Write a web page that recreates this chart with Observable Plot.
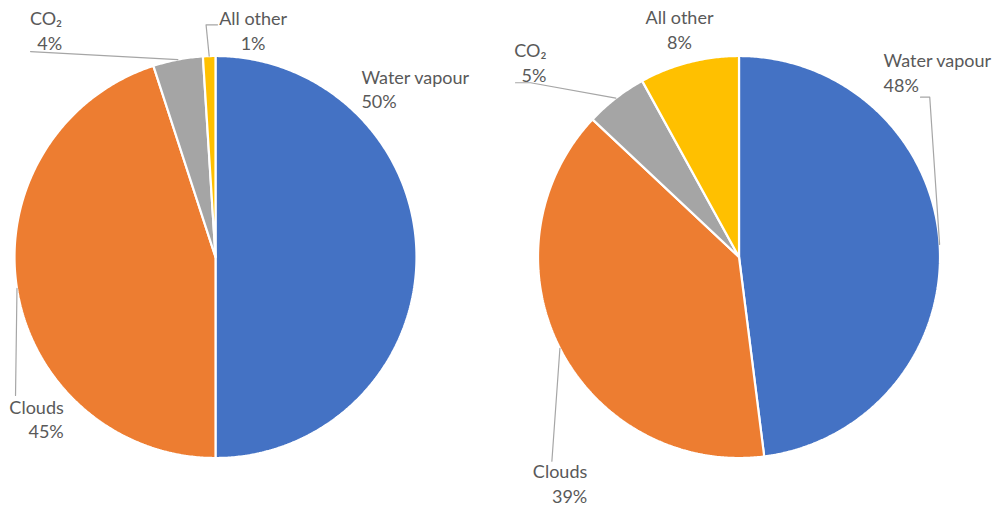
<!DOCTYPE html>
<html>
<head>
<meta charset="utf-8">
<script src="https://cdn.jsdelivr.net/npm/d3@7"></script>
<script src="https://cdn.jsdelivr.net/npm/@observablehq/plot@0.6"></script>
<style>
  body { margin: 0; background: #fff; }
</style>
</head>
<body>
<div id="chart"></div>
<script>
// Shares of the greenhouse effect, two estimates
const categories = ["Water vapour", "Clouds", "CO₂", "All other"];
const leftShares = [50, 45, 4, 1];
const rightShares = [48, 39, 5, 8];
const sliceColors = ["#4472C4", "#ED7D31", "#A5A5A5", "#FFC000"];

// Layout, in units of the pie radius (y points up)
const pies = [
  {name: "left", cx: 0, shares: leftShares},
  {name: "right", cx: 2.6045, shares: rightShares}
];

// Label position (first baseline), alignment and leader elbows per slice
const labelLayout = {
  left: {
    "Water vapour": {x: 0.726, y: 0.862, anchor: "start", leader: null},
    "Clouds": {x: -0.755, y: -0.780, anchor: "end", leader: [[-0.995, -0.689]]},
    "CO₂": {x: -0.763, y: 1.152, anchor: "end", leader: [[-0.920, 1.022]]},
    "All other": {x: 0.187, y: 1.152, anchor: "middle", leader: [[-0.047, 1.155], [0.010, 1.155]]}
  },
  right: {
    "Water vapour": {x: 0.719, y: 0.944, anchor: "start", leader: [[0.949, 0.795], [0.903, 0.795]]},
    "Clouds": {x: -0.755, y: -1.100, anchor: "end", leader: [[-0.931, -1.016]]},
    "CO₂": {x: -0.958, y: 0.994, anchor: "end", leader: [[-1.037, 0.867], [-1.112, 0.867]]},
    "All other": {x: -0.296, y: 1.159, anchor: "middle", leader: null}
  }
};

const FONT_SIZE = 18;
const LINE_GAP = 24.5;
const STEP = Math.PI / 360;

const slicePoints = [];
const leaderPoints = [];
const labels = [];

for (const pie of pies) {
  const rows = categories.map((category, i) => ({category, value: pie.shares[i]}));
  const arcs = d3.pie().sort(null).value(d => d.value)(rows);
  for (const arc of arcs) {
    const id = `${pie.name}-${arc.data.category}`;
    // wedge outline: centre, arc, centre
    slicePoints.push({id, category: arc.data.category, x: pie.cx, y: 0});
    const n = Math.max(2, Math.ceil((arc.endAngle - arc.startAngle) / STEP));
    for (let k = 0; k <= n; ++k) {
      const a = arc.startAngle + (arc.endAngle - arc.startAngle) * k / n;
      slicePoints.push({id, category: arc.data.category, x: pie.cx + Math.sin(a), y: Math.cos(a)});
    }
    slicePoints.push({id, category: arc.data.category, x: pie.cx, y: 0});

    const spec = labelLayout[pie.name][arc.data.category];
    labels.push({
      x: pie.cx + spec.x,
      y: spec.y,
      anchor: spec.anchor,
      text: `${arc.data.category}\n${arc.data.value}%`
    });
    if (spec.leader) {
      const mid = (arc.startAngle + arc.endAngle) / 2;
      leaderPoints.push({id, x: pie.cx + Math.sin(mid), y: Math.cos(mid)});
      for (const [px, py] of spec.leader) leaderPoints.push({id, x: pie.cx + px, y: py});
    }
  }
}

// multi-line text with lineAnchor "top" puts the first baseline 0.71 line-heights down;
// shift it back so y marks the first baseline
const textMark = anchor => Plot.text(labels.filter(d => d.anchor === anchor), {
  x: "x",
  y: "y",
  text: "text",
  textAnchor: anchor,
  lineAnchor: "top",
  dy: -0.71 * LINE_GAP,
  lineHeight: LINE_GAP / FONT_SIZE,
  fontSize: FONT_SIZE,
  fill: "#595959"
});

const chart = Plot.plot({
  width: 1002,
  height: 506,
  margin: 0,
  style: {fontFamily: "Lato, 'Liberation Sans', sans-serif", background: "#fff"},
  x: {domain: [-1.0697, 3.9154], axis: null},
  y: {domain: [-1.2413, 1.2761], axis: null},
  color: {domain: categories, range: sliceColors},
  marks: [
    Plot.line(slicePoints, {
      x: "x", y: "y", z: "id",
      fill: "category",
      stroke: "white",
      strokeWidth: 2.2,
      strokeLinejoin: "miter",
      curve: "linear"
    }),
    Plot.line(leaderPoints, {
      x: "x", y: "y", z: "id",
      stroke: "#A6A6A6",
      strokeWidth: 1.2,
      curve: "linear"
    }),
    textMark("start"),
    textMark("middle"),
    textMark("end")
  ]
});

document.getElementById("chart").append(chart);
</script>
</body>
</html>
